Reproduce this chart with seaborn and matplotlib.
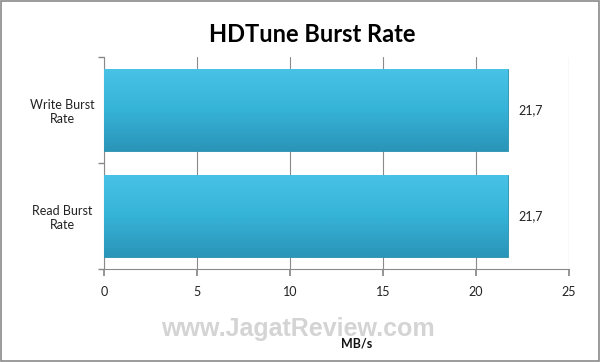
import numpy as np
import pandas as pd
import matplotlib
matplotlib.use("Agg")
import matplotlib.pyplot as plt
import seaborn as sns
from matplotlib.colors import LinearSegmentedColormap

categories = ["Write Burst\nRate", "Read Burst\nRate"]
values = [21.7, 21.7]
xticks = [0, 5, 10, 15, 20, 25]
title = "HDTune Burst Rate"
xlabel = "MB/s"
watermark = "www.JagatReview.com"

sns.set_theme(style="white")
plt.rcParams['font.family'] = ['Lato', 'DejaVu Sans']

df = pd.DataFrame({"cat": categories, "val": values})

fig = plt.figure(figsize=(6.0, 3.62), dpi=100)
ax = fig.add_axes([104/600, 1-269/362, (569-104)/600, (269-57)/362])

sns.barplot(data=df, x="val", y="cat", order=categories, orient="h",
            color="#36b3d8", width=0.78, ax=ax, zorder=3,
            edgecolor="#2a8fae", linewidth=0.6)

# gradient shading on bars
grad = np.linspace(0, 1, 64).reshape(-1, 1)
cmap = LinearSegmentedColormap.from_list("g", ["#48c3e6", "#36b3d8", "#2a95b8"])
for p in ax.patches:
    x0, y0 = p.get_x(), p.get_y()
    w, h = p.get_width(), p.get_height()
    im = ax.imshow(grad, extent=[x0, x0 + w, y0 + h, y0], cmap=cmap,
                   aspect="auto", zorder=3.5, interpolation="bilinear")
    im.set_clip_path(p)

ax.set_xlim(0, 25)
ax.set_ylim(1.5, -0.5)
ax.set_xticks(xticks)
ax.set_xticklabels([str(t) for t in xticks], fontsize=9, color="#222222")
ax.set_yticks([-0.5, 0.5, 1.5], minor=True)
ax.set_yticks([0, 1])
ax.set_yticklabels(categories, fontsize=9, color="#222222", ha="center", multialignment="center")
ax.tick_params(axis="y", which="major", length=0, pad=30)
ax.tick_params(axis="y", which="minor", length=4, color="#888888", left=True)
ax.tick_params(axis="x", length=5, color="#888888", bottom=True, pad=7)
ax.set_xlabel("")
ax.set_ylabel("")
ax.grid(axis="x", color="#8a8a8a", linewidth=0.8, zorder=0)
ax.set_axisbelow(True)
for s in ["top", "right"]:
    ax.spines[s].set_visible(False)
for s in ["left", "bottom"]:
    ax.spines[s].set_color("#8a8a8a")
    ax.spines[s].set_linewidth(0.8)

for c in ax.containers:
    ax.bar_label(c, labels=[f"{v:.1f}".replace(".", ",") for v in values],
                 padding=8, fontsize=9, color="#222222")

fig.text(312/600, 1-34/362, title, ha="center", va="center",
         fontsize=17, fontweight="bold", color="#000000")
fig.text(298/600, 1-329/362, watermark, ha="center", va="center",
         fontsize=18, fontweight="bold", color="#d4d4d4",
         family=["Liberation Sans", "DejaVu Sans"], zorder=0)
fig.text(357/600, 1-344/362, xlabel, ha="center", va="center",
         fontsize=9, fontweight="bold", color="#111111")

# outer frame
fig.patches.append(plt.Rectangle((0.002, 0.003), 0.996, 0.994, transform=fig.transFigure,
                                 fill=False, edgecolor="#8a8a8a", linewidth=1.2))

fig.savefig("out.png", dpi=100)
